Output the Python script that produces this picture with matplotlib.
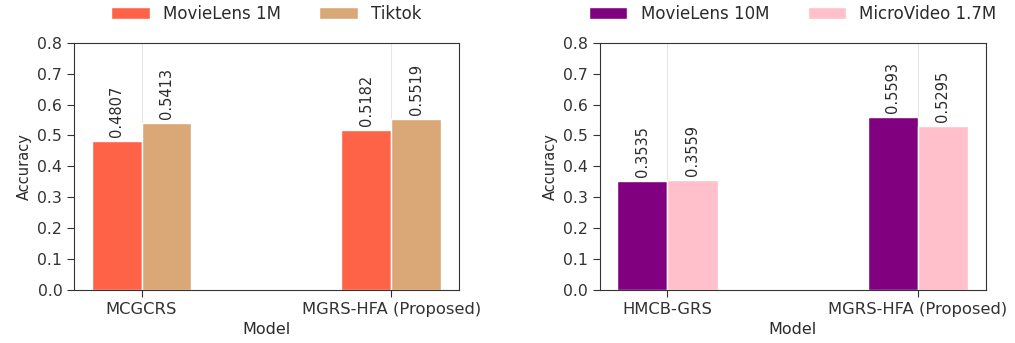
import matplotlib
matplotlib.use("Agg")
import matplotlib.pyplot as plt
import numpy as np

# left panel: MovieLens 1M / Tiktok
models_a = ["MCGCRS", "MGRS-HFA (Proposed)"]
ml1m = [0.4807, 0.5182]
tiktok = [0.5413, 0.5519]

# right panel: MovieLens 10M / MicroVideo 1.7M
models_b = ["HMCB-GRS", "MGRS-HFA (Proposed)"]
ml10m = [0.3535, 0.5593]
micro = [0.3559, 0.5295]

TXT = "#2b2b2b"


def draw_panel(ax, models, s1, s2, name1, name2, c1, c2):
    x = np.arange(len(models))
    w = 0.2
    b1 = ax.bar(x - w / 2, s1, w, color=c1, edgecolor="white", linewidth=1, label=name1, zorder=2)
    b2 = ax.bar(x + w / 2, s2, w, color=c2, edgecolor="white", linewidth=1, label=name2, zorder=2)
    for bars in (b1, b2):
        for rect in bars:
            h = rect.get_height()
            ax.annotate(f"{h:.4f}", (rect.get_x() + rect.get_width() / 2, h),
                        xytext=(0, 3), textcoords="offset points",
                        ha="center", va="bottom", rotation=90, fontsize=10.5, color=TXT)
    yt = np.arange(0, 0.81, 0.1)
    ax.set_xticks(x)
    ax.set_xticklabels(models, fontsize=11.8, color=TXT)
    ax.set_ylim(0, 0.8)
    ax.set_yticks(yt)
    ax.set_yticklabels([f"{v:.1f}" for v in yt], fontsize=11.3, color=TXT)
    ax.set_xlabel("Model", fontsize=11.5, color=TXT)
    ax.set_ylabel("Accuracy", fontsize=10.5, color=TXT)
    ax.xaxis.grid(True, color="#e6e6e6", linewidth=0.8, zorder=0)
    ax.set_axisbelow(True)
    for sp in ax.spines.values():
        sp.set_color("#333333")
    ax.tick_params(colors="#333333", length=5)
    ax.legend(loc="center", bbox_to_anchor=(0.5, 1.118), ncol=2, frameon=False,
              fontsize=12, handlelength=2.3, columnspacing=2.3, labelcolor=TXT)


fig = plt.figure(figsize=(10.15, 3.43), dpi=100)
ax1 = fig.add_axes([0.073, 0.155, 0.379, 0.72])
ax2 = fig.add_axes([0.591, 0.155, 0.380, 0.72])

draw_panel(ax1, models_a, ml1m, tiktok, "MovieLens 1M", "Tiktok", "tomato", "#DAA876")
draw_panel(ax2, models_b, ml10m, micro, "MovieLens 10M", "MicroVideo 1.7M", "purple", "pink")

fig.savefig("out.png", dpi=100)
